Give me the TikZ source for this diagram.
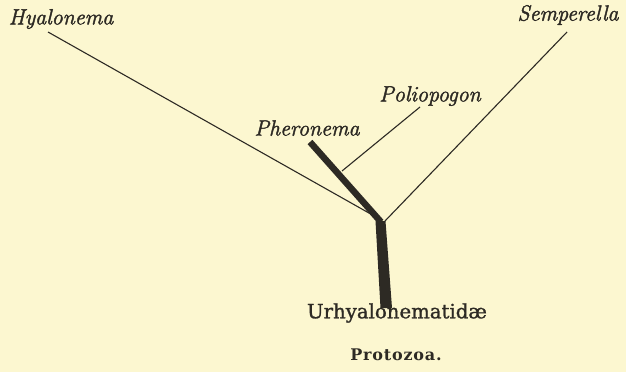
\documentclass[tikz,border=0pt]{standalone}
\usepackage{fontspec}
\setmainfont{Latin Modern Roman}
\newfontfamily\taxfont[FakeBold=1.8]{Latin Modern Roman}
\newfontfamily\urfont[FakeBold=1.2]{DejaVu Serif}
\newfontfamily\protofont[LetterSpace=5]{DejaVu Serif}
\definecolor{paper}{RGB}{252,247,208}
\definecolor{ink}{RGB}{45,42,36}
\begin{document}
\begin{tikzpicture}[x=1pt,y=-1pt,
  taxon/.style={font=\taxfont\fontsize{22}{24}\selectfont\itshape, text=ink, inner sep=0pt},
  thin/.style={draw=ink, line width=1.1pt},
  thick/.style={draw=ink, line width=6.5pt},
]
\fill[paper] (0,0) rectangle (626,372);
\useasboundingbox (0,0) rectangle (626,372);
% labels
\node[taxon] (hy) at (61,19) {Hyalonema};
\node[taxon] (se) at (568,15) {Semperella};
\node[taxon] (po) at (430,96) {Poliopogon};
\node[taxon] (ph) at (307,128) {Pheronema};
\node[font=\urfont\fontsize{19.7}{22}\selectfont, text=ink, inner sep=0pt] (ur) at (397,313) {Urhyalonematid\ae};
\node[font=\protofont\bfseries\fontsize{16}{18}\selectfont, text=ink, inner sep=0pt] (pr) at (396,355) {Protozoa.};
% branch points
\coordinate (hyA) at (48,32);
\coordinate (seA) at (567,32);
\coordinate (poA) at (420,107);
\coordinate (poB) at (342,171);
\coordinate (phA) at (310,142);
\coordinate (jn) at (381,222);
\coordinate (hyB) at (376,217);
\coordinate (seB) at (385,221);
% thin branches
\draw[thin] (hyA) -- (hyB);
\draw[thin] (seA) -- (seB);
\draw[thin] (poA) -- (poB);
% Pheronema thick branch
\draw[thick] (phA) -- (jn);
% trunk
\fill[ink] (375.5,221) -- (385.5,221) -- (392,308) -- (380.5,308) -- cycle;
\end{tikzpicture}
\end{document}
